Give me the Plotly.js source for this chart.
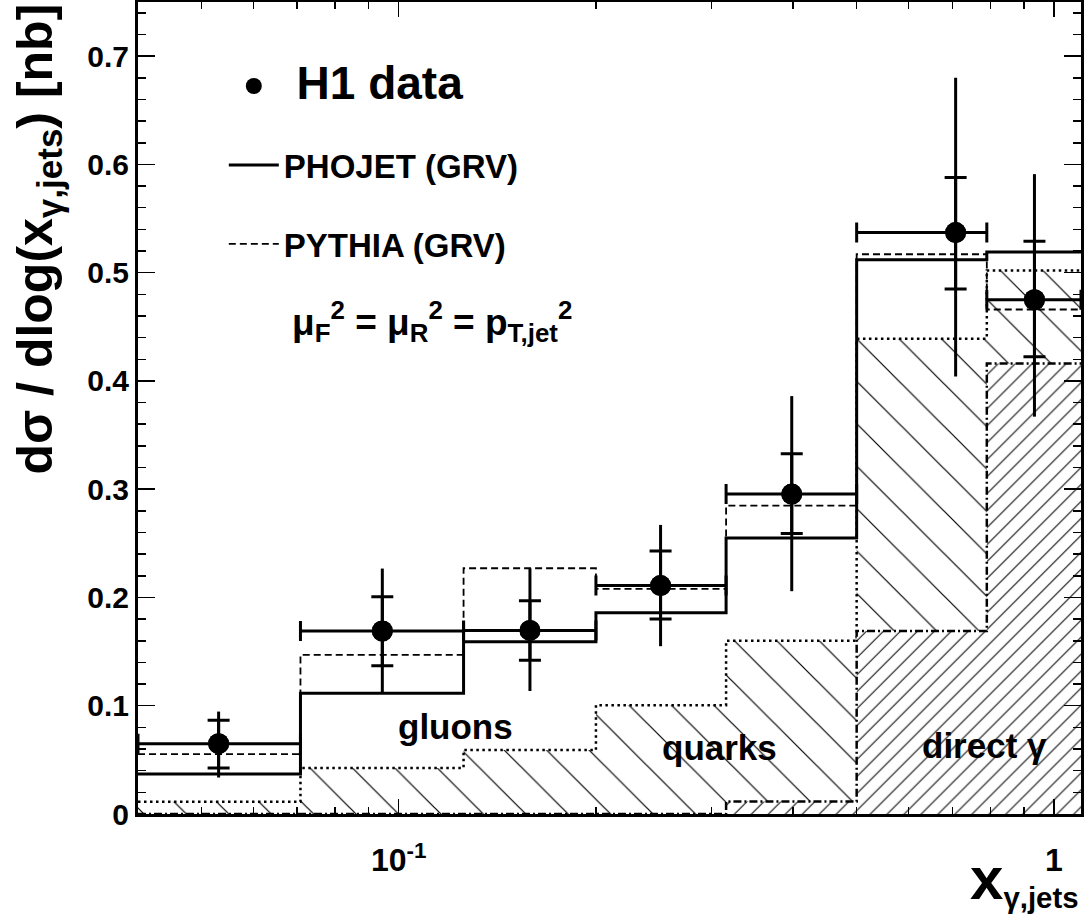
<!DOCTYPE html>
<html>
<head>
<meta charset="utf-8">
<script src="https://cdn.plot.ly/plotly-3.0.1.min.js"></script>
<style>html,body{margin:0;padding:0;background:#fff;}#chart{width:1086px;height:917px;}</style>
</head>
<body>
<div id="chart"></div>
<script>
// ---- data ----
var binEdges = [0.04, 0.0708, 0.1256, 0.2, 0.316, 0.5, 0.79, 1.1];
var binLo    = [0.04, 0.0708, 0.1256, 0.2, 0.316, 0.5, 0.79];
var binHi    = [0.0708, 0.1256, 0.2, 0.316, 0.5, 0.79, 1.1];

var h1X      = [0.0531, 0.0944, 0.1586, 0.251, 0.398, 0.708, 0.934];
var h1Y      = [0.065, 0.169, 0.1696, 0.211, 0.2955, 0.537, 0.475];
var h1StatHi = [0.0866, 0.2006, 0.197, 0.243, 0.3327, 0.588, 0.529];
var h1StatLo = [0.0424, 0.137, 0.142, 0.180, 0.259, 0.485, 0.4224];
var h1TotHi  = [0.0946, 0.2267, 0.2267, 0.267, 0.386, 0.680, 0.591];
var h1TotLo  = [0.0337, 0.112, 0.1136, 0.155, 0.2058, 0.404, 0.367];

var phojet   = [0.037, 0.1115, 0.159, 0.1858, 0.255, 0.512, 0.519];
var pythia   = [0.0553, 0.147, 0.227, 0.208, 0.2848, 0.517, 0.466];
var quarksPlusDirect = [0.0113, 0.0424, 0.059, 0.1005, 0.160, 0.439, 0.502];
var directGamma      = [0, 0, 0, 0, 0.0116, 0.169, 0.416];

var xTickVals  = [0.1, 1];
var xTickText  = ['10<sup>-1</sup>', '1'];
var xMinorVals = [0.04, 0.05, 0.06, 0.07, 0.08, 0.09, 0.2, 0.3, 0.4, 0.5, 0.6, 0.7, 0.8, 0.9];

// ---- helpers ----
function stepY(v) { return v.concat([v[v.length - 1]]); }
function diff(a, b) { return a.map(function (v, i) { return v - b[i]; }); }

var FONT = 'Liberation Sans, Arial, Helvetica, sans-serif';

var traces = [
  {
    x: binEdges, y: stepY(quarksPlusDirect), type: 'scatter', mode: 'lines',
    line: {shape: 'hv', color: 'black', width: 2.5, dash: '2.5px,3.5px'},
    fill: 'tozeroy', fillcolor: 'white',
    fillpattern: {shape: '\\', size: 30, solidity: 0.04, fgcolor: 'black', bgcolor: 'white'},
    showlegend: false, hoverinfo: 'skip', name: 'quarks'
  },
  {
    x: binEdges, y: stepY(directGamma), type: 'scatter', mode: 'lines',
    line: {shape: 'hv', color: 'black', width: 2.5, dash: '8px,3px,2px,3px'},
    fill: 'tozeroy', fillcolor: 'white',
    fillpattern: {shape: '/', size: 12, solidity: 0.085, fgcolor: 'black', bgcolor: 'white'},
    showlegend: false, hoverinfo: 'skip', name: 'direct γ'
  },
  {
    x: binEdges, y: stepY(pythia), type: 'scatter', mode: 'lines',
    line: {shape: 'hv', color: 'black', width: 1.8, dash: '7px,4px'},
    name: 'PYTHIA (GRV)', legendrank: 3, legendgroup: 'c'
  },
  {
    x: binEdges, y: stepY(phojet), type: 'scatter', mode: 'lines',
    line: {shape: 'hv', color: 'black', width: 3},
    name: 'PHOJET (GRV)', legendrank: 2, legendgroup: 'b'
  },
  {
    x: h1X, y: h1Y, type: 'scatter', mode: 'markers',
    marker: {symbol: 'circle', size: 21, color: 'black'},
    error_x: {type: 'data', symmetric: false, array: diff(binHi, h1X), arrayminus: diff(h1X, binLo),
              color: 'black', thickness: 3, width: 10},
    error_y: {type: 'data', symmetric: false, array: diff(h1TotHi, h1Y), arrayminus: diff(h1Y, h1TotLo),
              color: 'black', thickness: 3, width: 0},
    name: '<span style="font-size:46px">\u00a0H1 data</span>', legendrank: 1, legendgroup: 'a'
  },
  {
    x: h1X, y: h1Y, type: 'scatter', mode: 'markers',
    marker: {symbol: 'circle', size: 21, color: 'black'},
    error_y: {type: 'data', symmetric: false, array: diff(h1StatHi, h1Y), arrayminus: diff(h1Y, h1StatLo),
              color: 'black', thickness: 3, width: 11},
    showlegend: false, hoverinfo: 'skip', name: 'H1 stat'
  }
];

var layout = {
  width: 1086, height: 917,
  margin: {l: 138, r: 5, t: 2, b: 103},
  paper_bgcolor: 'white', plot_bgcolor: 'white',
  font: {family: FONT, color: 'black', weight: 'bold'},
  showlegend: true,
  legend: {
    x: 0.091, y: 0.931, xanchor: 'left', yanchor: 'top',
    bgcolor: 'rgba(0,0,0,0)', font: {family: FONT, size: 33, weight: 'bold'},
    itemwidth: 50, tracegroupgap: 33, traceorder: 'grouped'
  },
  xaxis: {
    type: 'log', range: [Math.log10(0.04), Math.log10(1.1)],
    tickmode: 'array', tickvals: xTickVals, ticktext: xTickText,
    ticks: 'inside', ticklen: 15, tickwidth: 1.5, tickcolor: 'black',
    minor: {tickmode: 'array', tickvals: xMinorVals, ticks: 'inside', ticklen: 7, tickwidth: 1.5, tickcolor: 'black'},
    showline: true, linewidth: 3, linecolor: 'black', mirror: 'ticks',
    showgrid: false, zeroline: false, ticklabelstandoff: 16,
    tickfont: {family: FONT, size: 32, weight: 'bold'}
  },
  yaxis: {
    range: [0, 0.75], dtick: 0.1, tick0: 0,
    ticks: 'inside', ticklen: 17, tickwidth: 1.5, tickcolor: 'black',
    minor: {dtick: 0.02, ticks: 'inside', ticklen: 8, tickwidth: 1.5, tickcolor: 'black'},
    showline: true, linewidth: 3, linecolor: 'black', mirror: 'ticks',
    showgrid: false, zeroline: false,
    tickfont: {family: FONT, size: 30, weight: 'bold'}
  },
  annotations: [
    {text: 'dσ / dlog(x<sub>γ,jets</sub>) [nb]', textangle: -90, xref: 'paper', yref: 'paper',
     x: -0.106, y: 1.0, xanchor: 'center', yanchor: 'top', showarrow: false,
     font: {family: FONT, size: 50, weight: 'bold'}},
    {text: '<span style="font-size:60px">x</span><sub>γ,jets</sub>', xref: 'paper', yref: 'paper',
     x: 1.0, y: -0.126, xanchor: 'right', yanchor: 'bottom', showarrow: false,
     font: {family: FONT, size: 42, weight: 'bold'}},
    {text: 'μ<sub>F</sub><sup>2</sup> = μ<sub>R</sub><sup>2</sup> = p<sub>T,jet</sub><sup>2</sup>',
     xref: 'paper', yref: 'paper', x: 0.161, y: 0.606, xanchor: 'left', yanchor: 'middle', showarrow: false,
     font: {family: FONT, size: 37, weight: 'bold'}},
    {text: 'gluons', xref: 'x', yref: 'y', x: Math.log10(0.122), y: 0.081, showarrow: false,
     font: {family: FONT, size: 35, weight: 'bold'}},
    {text: 'quarks', xref: 'x', yref: 'y', x: Math.log10(0.309), y: 0.061, showarrow: false,
     font: {family: FONT, size: 35, weight: 'bold'}},
    {text: 'direct γ', xref: 'x', yref: 'y', x: Math.log10(0.783), y: 0.063, showarrow: false,
     font: {family: FONT, size: 35, weight: 'bold'}}
  ]
};

Plotly.newPlot('chart', traces, layout, {displayModeBar: false, staticPlot: true});
</script>
</body>
</html>
